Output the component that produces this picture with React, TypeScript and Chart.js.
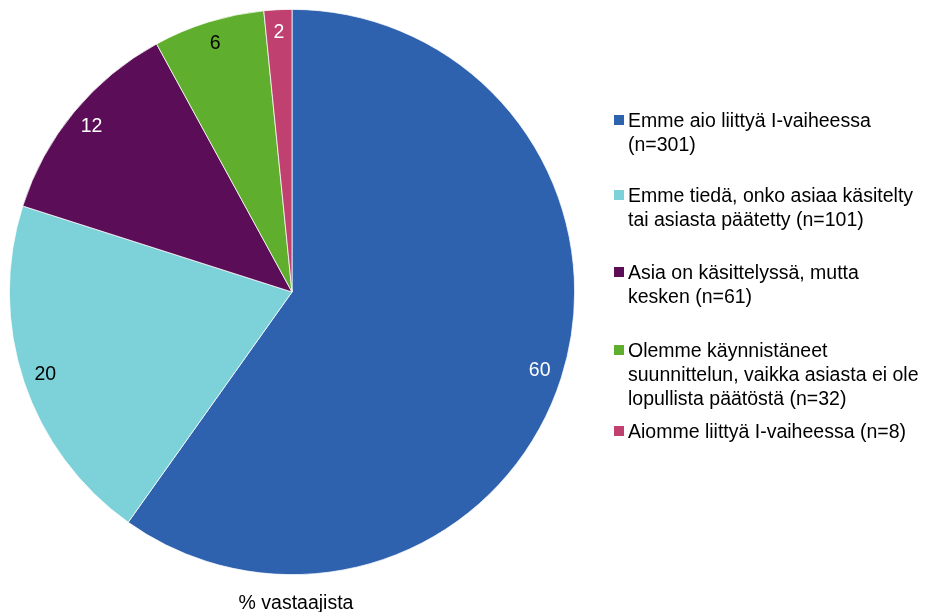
import React, { useEffect, useRef } from "react";
import { Chart, registerables } from "chart.js";

Chart.register(...registerables);

const categories = [
  "Emme aio liittyä I-vaiheessa (n=301)",
  "Emme tiedä, onko asiaa käsitelty tai asiasta päätetty (n=101)",
  "Asia on käsittelyssä, mutta kesken (n=61)",
  "Olemme käynnistäneet suunnittelun, vaikka asiasta ei ole lopullista päätöstä (n=32)",
  "Aiomme liittyä I-vaiheessa (n=8)",
];
const legendLines = [
  ["Emme aio liittyä I-vaiheessa", "(n=301)"],
  ["Emme tiedä, onko asiaa käsitelty", "tai asiasta päätetty (n=101)"],
  ["Asia on käsittelyssä, mutta", "kesken (n=61)"],
  ["Olemme käynnistäneet", "suunnittelun, vaikka asiasta ei ole", "lopullista päätöstä (n=32)"],
  ["Aiomme liittyä I-vaiheessa (n=8)"],
];
const counts = [301, 101, 61, 32, 8];
const percentLabels = [60, 20, 12, 6, 2];
const colors = ["#2F62AE", "#7DD1D8", "#5B0E57", "#5FAE2E", "#C0406F"];
const labelColors = ["#ffffff", "#000000", "#ffffff", "#000000", "#ffffff"];
const legendTops = [108, 183, 260, 338, 419];
const FONT = "'Liberation Sans', Arial, sans-serif";
const FS = 19.5;

export default function App() {
  const ref = useRef<HTMLCanvasElement | null>(null);
  useEffect(() => {
    document.body.style.margin = "0";
    const labelPlugin = {
      id: "sliceLabels",
      afterDatasetsDraw(chart: any) {
        const ctx = chart.ctx;
        const meta = chart.getDatasetMeta(0);
        ctx.save();
        ctx.font = `${FS}px ${FONT}`;
        ctx.textAlign = "center";
        ctx.textBaseline = "middle";
        meta.data.forEach((arc: any, i: number) => {
          const mid = (arc.startAngle + arc.endAngle) / 2;
          const r = arc.outerRadius * 0.92;
          ctx.fillStyle = labelColors[i];
          ctx.fillText(String(percentLabels[i]), arc.x + Math.cos(mid) * r, arc.y + Math.sin(mid) * r);
        });
        ctx.restore();
      },
    };
    const chart = new Chart(ref.current as HTMLCanvasElement, {
      type: "pie",
      data: {
        labels: categories,
        datasets: [
          {
            data: counts,
            backgroundColor: colors,
            borderColor: "#ffffff",
            borderWidth: 0.75,
          },
        ],
      },
      options: {
        responsive: false,
        animation: false,
        layout: { padding: { left: 9, top: 9, right: 350, bottom: 37 } },
        plugins: {
          legend: { display: false },
          tooltip: { enabled: false },
          title: { display: false },
        },
      },
      plugins: [labelPlugin],
    });
    return () => chart.destroy();
  }, []);

  return (
    <div style={{ position: "relative", width: 925, height: 612, fontFamily: FONT, background: "#fff" }}>
      <canvas ref={ref} width={925} height={612} style={{ position: "absolute", left: 0, top: 0 }} />
      {legendLines.map((lines, i) => (
        <div
          key={i}
          style={{ position: "absolute", left: 628, top: legendTops[i], fontSize: FS, lineHeight: "24px", color: "#000", whiteSpace: "nowrap" }}
        >
          <span
            style={{ position: "absolute", left: -14, top: 7, width: 10, height: 10, background: colors[i] }}
          />
          {lines.map((l, j) => (
            <div key={j}>{l}</div>
          ))}
        </div>
      ))}
      <div style={{ position: "absolute", left: 0, width: 592, top: 590, textAlign: "center", fontSize: FS, lineHeight: "24px", color: "#000" }}>
        % vastaajista
      </div>
    </div>
  );
}
